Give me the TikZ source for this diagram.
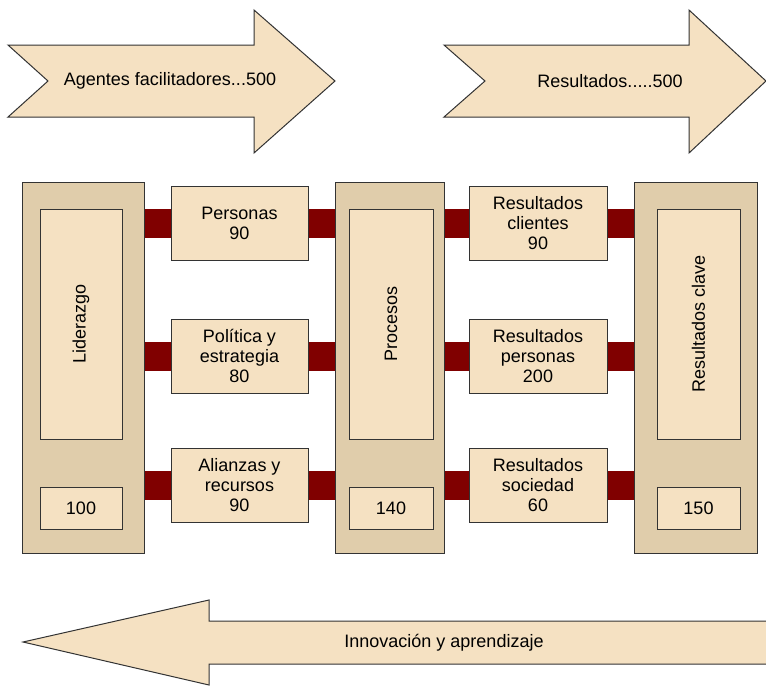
\documentclass[tikz,border=0pt]{standalone}
\usepackage{fontspec}
\setmainfont{Liberation Sans}
\usetikzlibrary{backgrounds}
\definecolor{crema}{HTML}{F5E1C2}
\definecolor{tostado}{HTML}{E0CDAB}
\definecolor{granate}{HTML}{800000}
\definecolor{borde}{HTML}{333333}

\begin{document}
\begin{tikzpicture}[x=1pt,y=-1pt,line width=1pt,
    font=\fontsize{18}{20}\selectfont,
    flecha/.style={draw=borde,fill=crema,line join=miter},
    columna/.style={draw=borde,fill=tostado,inner sep=0pt},
    caja/.style={draw=borde,fill=crema,inner sep=0pt,align=center},
    barra/.style={draw=granate,line width=29pt}]
        \useasboundingbox (0,0) rectangle (766,686);
        % flechas
        \draw[flecha] (8,45) -- (254,45) -- (254,10) -- (335,81) -- (254,153)
              -- (254,117) -- (8,117) -- (48,81) -- cycle;
        \draw[flecha] (444,45) -- (689,45) -- (689,10) -- (766,81) -- (689,153)
              -- (689,117) -- (444,117) -- (485,81) -- cycle;
        \draw[flecha] (23,642) -- (209,600) -- (209,621) -- (780,621)
              -- (780,664) -- (209,664) -- (209,685) -- cycle;
        \node (agentes) at (170,81) {Agentes facilitadores...500};
        \node (resultados) at (610,81) {Resultados.....500};
        \node (innovacion) at (444,643) {Innovación y aprendizaje};
        % columnas
        \draw (83,367.5)  node[columna,minimum width=122pt,minimum height=371pt] (lid) {};
        \draw (389.5,367.5) node[columna,minimum width=109pt,minimum height=371pt] (pro) {};
        \draw (695.5,367.5) node[columna,minimum width=123pt,minimum height=371pt] (res) {};
        \draw (81,324)    node[caja,minimum width=82pt,minimum height=230pt] (lidin) {};
        \draw (391,324)   node[caja,minimum width=84pt,minimum height=230pt] (proin) {};
        \draw (698.5,324) node[caja,minimum width=83pt,minimum height=230pt] (resin) {};
        \node[rotate=90] at (lidin) {Liderazgo};
        \node[rotate=90] at (proin) {Procesos};
        \node[rotate=90] at (resin) {Resultados clave};
        \draw (81,508)    node[caja,minimum width=82pt,minimum height=42pt] (lidval) {100};
        \draw (391,508)   node[caja,minimum width=84pt,minimum height=42pt] (proval) {140};
        \draw (698.5,508) node[caja,minimum width=83pt,minimum height=42pt] (resval) {150};
        % criterios
        \draw (239.5,223) node[caja,minimum width=137pt,minimum height=74pt] (per) {Personas\\90};
        \draw (239.5,356) node[caja,minimum width=137pt,minimum height=74pt] (pol) {Política y\\estrategia\\80};
        \draw (239.5,485) node[caja,minimum width=137pt,minimum height=74pt] (ali) {Alianzas y\\recursos\\90};
        \draw (538,223)   node[caja,minimum width=138pt,minimum height=74pt] (rcl) {Resultados\\clientes\\90};
        \draw (538,356)   node[caja,minimum width=138pt,minimum height=74pt] (rpe) {Resultados\\personas\\200};
        \draw (538,485)   node[caja,minimum width=138pt,minimum height=74pt] (rso) {Resultados\\sociedad\\60};
        \begin{scope}[on background layer]
        \draw[barra] (lid.east |- per.west) -- (per.west)
              (per.east) -- (pro.west |- per.east)
              (lid.east |- pol.west) -- (pol.west)
              (pol.east) -- (pro.west |- pol.east)
              (lid.east |- ali.west) -- (ali.west)
              (ali.east) -- (pro.west |- ali.east)
              (pro.east |- rcl.west) -- (rcl.west)
              (rcl.east) -- (res.west |- rcl.east)
              (pro.east |- rpe.west) -- (rpe.west)
              (rpe.east) -- (res.west |- rpe.east)
              (pro.east |- rso.west) -- (rso.west)
              (rso.east) -- (res.west |- rso.east);
        \end{scope}
    \end{tikzpicture}
\end{document}
